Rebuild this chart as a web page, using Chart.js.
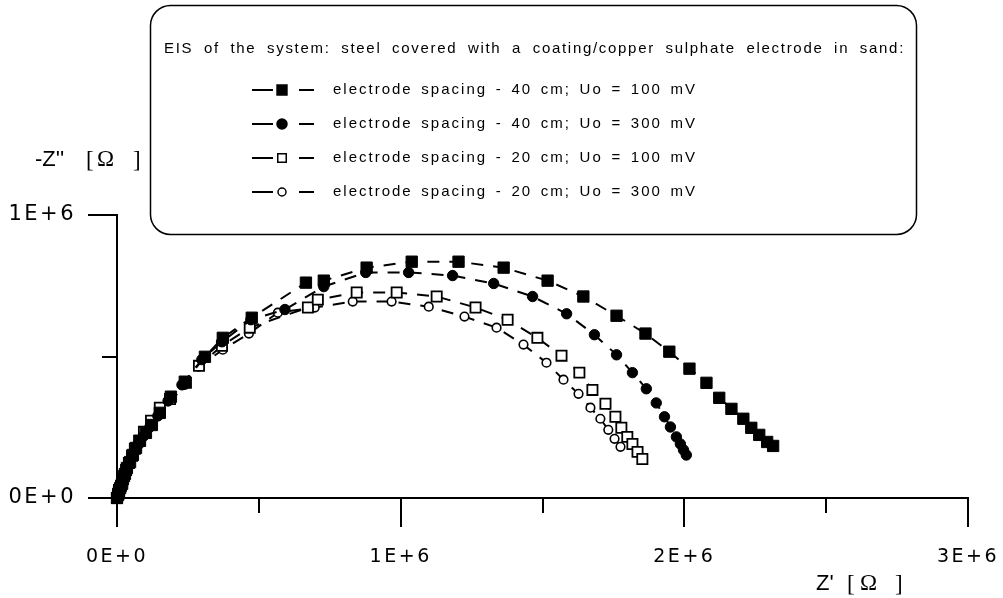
<!DOCTYPE html>
<html>
<head>
<meta charset="utf-8">
<script src="https://cdn.jsdelivr.net/npm/chart.js@4.4.1/dist/chart.umd.min.js"></script>
<style>
  html, body { margin: 0; padding: 0; background: #fff; }
  #wrap { width: 1003px; height: 598px; position: relative; }
</style>
</head>
<body>
<div id="wrap"><canvas id="chart-eis"></canvas></div>
<script>
// ── Data (Z' and -Z'', in MOhm) ───────────────────────────
const UNIT = 1e6;

const seriesLabels = [
  'electrode spacing - 40 cm; Uo = 100 mV',
  'electrode spacing - 40 cm; Uo = 300 mV',
  'electrode spacing - 20 cm; Uo = 100 mV',
  'electrode spacing - 20 cm; Uo = 300 mV',
];

const re40_100 = [0, 0.004, 0.007, 0.011, 0.018, 0.021, 0.028, 0.035, 0.046, 0.056,
  0.067, 0.081, 0.102, 0.123, 0.151, 0.190, 0.239, 0.310, 0.373, 0.475,
  0.666, 0.729, 0.880, 1.039, 1.204, 1.363, 1.518, 1.644, 1.761, 1.863,
  1.947, 2.018, 2.078, 2.123, 2.166, 2.208, 2.236, 2.264, 2.292, 2.313];
const im40_100 = [0, 0.011, 0.021, 0.035, 0.050, 0.067, 0.085, 0.106, 0.127, 0.152,
  0.177, 0.202, 0.230, 0.258, 0.301, 0.358, 0.411, 0.499, 0.566, 0.637,
  0.761, 0.768, 0.814, 0.835, 0.835, 0.814, 0.768, 0.712, 0.644, 0.581,
  0.517, 0.457, 0.407, 0.354, 0.315, 0.280, 0.248, 0.223, 0.198, 0.184];

const re40_300 = [0, 0.004, 0.007, 0.014, 0.018, 0.025, 0.032, 0.042, 0.053, 0.063,
  0.078, 0.095, 0.116, 0.144, 0.180, 0.229, 0.299, 0.370, 0.472, 0.592,
  0.729, 0.877, 1.028, 1.183, 1.328, 1.465, 1.585, 1.683, 1.761, 1.817,
  1.866, 1.901, 1.930, 1.951, 1.972, 1.986, 1.997, 2.007];
const im40_300 = [0, 0.011, 0.025, 0.039, 0.057, 0.074, 0.096, 0.117, 0.142, 0.166,
  0.191, 0.220, 0.251, 0.290, 0.343, 0.400, 0.489, 0.552, 0.630, 0.666,
  0.747, 0.797, 0.797, 0.786, 0.758, 0.712, 0.651, 0.577, 0.506, 0.443,
  0.386, 0.336, 0.287, 0.251, 0.216, 0.191, 0.170, 0.152];

const re20_100 = [0, 0.004, 0.007, 0.014, 0.018, 0.025, 0.032, 0.042, 0.053, 0.063,
  0.078, 0.095, 0.120, 0.151, 0.187, 0.243, 0.289, 0.370, 0.468, 0.673,
  0.708, 0.845, 0.986, 1.127, 1.264, 1.377, 1.482, 1.567, 1.630, 1.676,
  1.722, 1.757, 1.778, 1.799, 1.817, 1.835, 1.852];
const im20_100 = [0, 0.014, 0.028, 0.043, 0.060, 0.078, 0.099, 0.124, 0.149, 0.174,
  0.202, 0.234, 0.273, 0.319, 0.350, 0.407, 0.467, 0.538, 0.602, 0.673,
  0.701, 0.726, 0.726, 0.712, 0.673, 0.630, 0.566, 0.503, 0.443, 0.382,
  0.333, 0.287, 0.248, 0.216, 0.191, 0.163, 0.138];

const re20_300 = [0, 0.004, 0.007, 0.011, 0.018, 0.025, 0.032, 0.039, 0.049, 0.060,
  0.074, 0.088, 0.116, 0.151, 0.194, 0.239, 0.289, 0.373, 0.465, 0.567,
  0.697, 0.831, 0.968, 1.099, 1.225, 1.338, 1.433, 1.514, 1.574, 1.627,
  1.669, 1.704, 1.732, 1.754, 1.775];
const im20_300 = [0, 0.014, 0.028, 0.043, 0.060, 0.078, 0.099, 0.120, 0.145, 0.170,
  0.195, 0.212, 0.251, 0.294, 0.347, 0.400, 0.464, 0.524, 0.581, 0.655,
  0.673, 0.694, 0.694, 0.676, 0.641, 0.602, 0.542, 0.478, 0.418, 0.368,
  0.319, 0.280, 0.241, 0.209, 0.181];

const legendTitle = 'EIS of the system: steel covered with a coating/copper sulphate electrode in sand:';
const xTickMax = 3e6, yTickMax = 1e6, tickStep = 5e5;

// ── helpers ─────────────────────────────────
function toPoints(re, im) {
  return re.map((v, i) => ({ x: v * UNIT, y: im[i] * UNIT }));
}

function sciLabel(v) {
  const k = Math.round(v / tickStep);
  if (k % 2) return '';              // minor tick, no label
  if (k === 0) return '0E+0';
  const e = Math.floor(Math.log10(v) + 1e-9);
  return Math.round(v / Math.pow(10, e)) + 'E+' + e;
}

// fixed letter spacing, word gaps stretched to hit the target width
function spacedText(ctx, str, x, y, width, ls) {
  ctx.letterSpacing = ls + 'px';
  ctx.wordSpacing = '0px';
  const w0 = ctx.measureText(str).width;
  const gaps = str.split(' ').length - 1;
  ctx.wordSpacing = Math.max(0, (width - w0) / gaps) + 'px';
  ctx.fillText(str, x, y);
  ctx.letterSpacing = '0px';
  ctx.wordSpacing = '0px';
}

// ── decorations: ticks, axis titles, legend box ─
const eisDecor = {
  id: 'eisDecor',
  beforeDraw(chart) {
    chart.ctx.letterSpacing = '2.5px';   // wide tick labels
  },
  afterDraw(chart) {
    const ctx = chart.ctx;
    const xs = chart.scales.x, ys = chart.scales.y;
    ctx.save();
    ctx.letterSpacing = '0px';

    // tick marks, long on labelled values, short in between
    ctx.strokeStyle = '#000';
    ctx.lineWidth = 2;
    ctx.beginPath();
    xs.ticks.forEach(t => {
      const px = Math.round(xs.getPixelForValue(t.value));
      const len = sciLabel(t.value) ? 29 : 15;
      ctx.moveTo(px, xs.top); ctx.lineTo(px, xs.top + len);
    });
    ys.ticks.forEach(t => {
      const py = Math.round(ys.getPixelForValue(t.value));
      const len = sciLabel(t.value) ? 29 : 15;
      ctx.moveTo(ys.right, py); ctx.lineTo(ys.right - len, py);
    });
    ctx.stroke();

    // axis titles
    ctx.fillStyle = '#000';
    ctx.textAlign = 'left';
    ctx.textBaseline = 'alphabetic';
    ctx.font = '22px "Liberation Sans"';
    ctx.fillText("-Z''", 35, 166);
    ctx.fillText("Z'", 816, 590);
    ctx.font = '23px "Liberation Serif"';
    ctx.fillText('[', 86, 167); ctx.fillText('\u03A9', 97, 166); ctx.fillText(']', 133, 167);
    ctx.fillText('[', 847, 591); ctx.fillText('\u03A9', 860, 590); ctx.fillText(']', 895, 591);

    // legend box
    ctx.fillStyle = '#fff';
    ctx.strokeStyle = '#000';
    ctx.lineWidth = 1.5;
    ctx.beginPath();
    ctx.roundRect(150.5, 5.5, 766, 229, 20);
    ctx.fill();
    ctx.stroke();

    ctx.fillStyle = '#000';
    ctx.font = '15px "Liberation Sans"';
    ctx.textBaseline = 'middle';
    spacedText(ctx, legendTitle, 164, 49, 741, 1.7);

    const rows = [90, 124, 158, 192];
    const legendRadius = { rect: 7, circle: 5 };
    chart.data.datasets.forEach((ds, i) => {
      const y = rows[i];
      ctx.strokeStyle = '#000';
      ctx.lineWidth = 2;
      ctx.beginPath();
      ctx.moveTo(252, y); ctx.lineTo(273, y);
      ctx.moveTo(299, y); ctx.lineTo(314, y);
      ctx.stroke();
      ctx.fillStyle = ds.pointBackgroundColor;
      ctx.lineWidth = 1.5;
      const open = ds.pointBackgroundColor !== '#000';
      Chart.helpers.drawPoint(ctx, {
        pointStyle: ds.pointStyle,
        radius: legendRadius[ds.pointStyle] - (open ? 1 : 0),
        borderWidth: 1.5,
      }, 282, y);
      ctx.fillStyle = '#000';
      spacedText(ctx, ds.label, 333, y, 364, 2);
    });
    ctx.restore();
  },
};

// ── chart ─────────────────────────────────────
const baseDs = {
  showLine: true,
  borderColor: '#000',
  borderWidth: 2,
  borderDash: [12, 10],
  pointBorderColor: '#000',
  tension: 0,
  clip: false,
};

const eisChart = new Chart(document.getElementById('chart-eis'), {
  type: 'scatter',
  data: {
    datasets: [
      { ...baseDs, label: seriesLabels[0], data: toPoints(re40_100, im40_100),
        pointStyle: 'rect', pointRadius: 8, pointBackgroundColor: '#000', pointBorderWidth: 1 },
      { ...baseDs, label: seriesLabels[1], data: toPoints(re40_300, im40_300),
        pointStyle: 'circle', pointRadius: 5.2, pointBackgroundColor: '#000', pointBorderWidth: 1 },
      { ...baseDs, label: seriesLabels[2], data: toPoints(re20_100, im20_100),
        pointStyle: 'rect', pointRadius: 7.2, pointBackgroundColor: '#fff', pointBorderWidth: 1.8 },
      { ...baseDs, label: seriesLabels[3], data: toPoints(re20_300, im20_300),
        pointStyle: 'circle', pointRadius: 4.3, pointBackgroundColor: '#fff', pointBorderWidth: 1.6 },
    ],
  },
  options: {
    responsive: true,
    maintainAspectRatio: false,
    animation: false,
    layout: { padding: { top: 215, right: 35, bottom: 0, left: 0 } },
    plugins: { legend: { display: false }, tooltip: { enabled: false } },
    scales: {
      x: {
        type: 'linear', min: 0, max: xTickMax,
        afterFit: s => { s.height = 100; s.paddingLeft = 0; s.paddingRight = 0; },
        border: { display: true, color: '#000', width: 2 },
        grid: { drawOnChartArea: false, tickLength: 29, tickColor: 'rgba(0,0,0,0)' },
        ticks: { stepSize: tickStep, autoSkip: false, maxRotation: 0, padding: 19,
          color: '#000', font: { family: 'DejaVu Sans', size: 19 }, callback: sciLabel },
      },
      y: {
        type: 'linear', min: 0, max: yTickMax,
        afterFit: s => { s.width = 117; s.paddingTop = 0; s.paddingBottom = 0; },
        border: { display: true, color: '#000', width: 2 },
        grid: { drawOnChartArea: false, tickLength: 29, tickColor: 'rgba(0,0,0,0)' },
        ticks: { stepSize: tickStep, autoSkip: false, padding: 12,
          color: '#000', font: { family: 'DejaVu Sans', size: 21 }, callback: sciLabel },
      },
    },
  },
  plugins: [eisDecor],
});
</script>
</body>
</html>
